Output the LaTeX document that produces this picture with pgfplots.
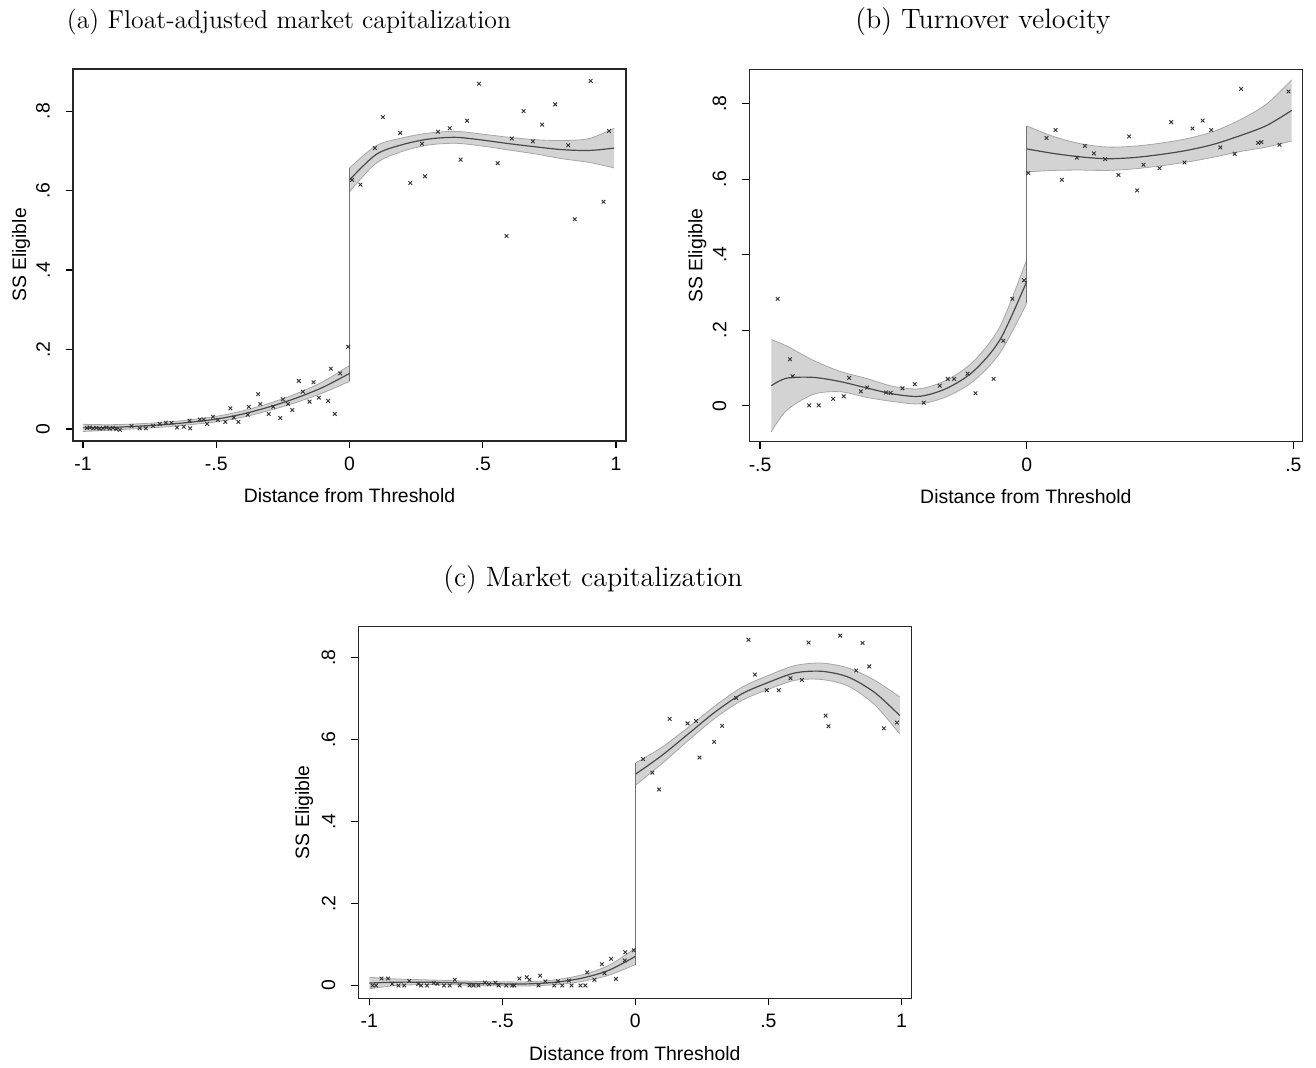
\documentclass[border=0pt]{standalone}
\usepackage{fontspec}
\setsansfont{Liberation Sans}
\usepackage{pgfplots}
\pgfplotsset{compat=1.18}
\usepackage{pgfplotstable}
\usepgfplotslibrary{fillbetween}

\definecolor{bandfill}{HTML}{D3D3D3}
\definecolor{bandedge}{HTML}{A6A6A6}
\definecolor{fitline}{HTML}{4A4A4A}
\definecolor{dotcol}{HTML}{333333}

% fitted polynomial and 95% band: x fit lo hi
\pgfplotstableread{
x fit lo hi
-1.0 0.003 -0.006 0.012
-0.9 0.004 -0.003 0.011
-0.8 0.007 0.001 0.013
-0.7 0.011 0.005 0.017
-0.6 0.017 0.011 0.023
-0.5 0.025 0.018 0.032
-0.4 0.038 0.030 0.046
-0.3 0.056 0.047 0.065
-0.2 0.078 0.067 0.089
-0.1 0.105 0.091 0.119
0.0 0.140 0.120 0.160
}\aLeft
\pgfplotstableread{
x fit lo hi
0.000 0.627 0.597 0.657
0.100 0.691 0.669 0.713
0.200 0.716 0.699 0.733
0.300 0.730 0.715 0.745
0.400 0.734 0.719 0.749
0.500 0.727 0.712 0.742
0.600 0.718 0.702 0.734
0.700 0.710 0.692 0.728
0.800 0.703 0.680 0.726
0.900 0.701 0.671 0.731
0.993 0.707 0.657 0.757
}\aRight
\pgfplotstableread{
x y
-0.985 0.003
-0.975 0.004
-0.962 0.002
-0.950 0.003
-0.938 0.001
-0.925 0.002
-0.912 0.004
-0.900 0.001
-0.888 0.003
-0.875 0.000
-0.862 -0.002
-0.818 0.008
-0.787 0.002
-0.764 0.002
-0.737 0.008
-0.712 0.013
-0.689 0.016
-0.668 0.016
-0.647 0.004
-0.622 0.006
-0.600 0.021
-0.598 0.002
-0.562 0.024
-0.547 0.024
-0.534 0.013
-0.512 0.031
-0.494 0.023
-0.466 0.018
-0.447 0.052
-0.434 0.029
-0.417 0.018
-0.382 0.036
-0.378 0.056
-0.343 0.088
-0.335 0.063
-0.303 0.038
-0.286 0.056
-0.260 0.028
-0.250 0.075
-0.231 0.063
-0.215 0.048
-0.190 0.121
-0.175 0.094
-0.150 0.069
-0.135 0.118
-0.115 0.079
-0.080 0.071
-0.070 0.152
-0.055 0.038
-0.035 0.140
-0.005 0.207
0.010 0.627
0.041 0.615
0.095 0.707
0.125 0.785
0.190 0.745
0.228 0.619
0.272 0.718
0.283 0.636
0.332 0.748
0.376 0.757
0.417 0.678
0.441 0.776
0.486 0.869
0.556 0.669
0.589 0.486
0.609 0.731
0.653 0.800
0.688 0.724
0.723 0.766
0.772 0.817
0.821 0.714
0.845 0.528
0.905 0.876
0.953 0.572
0.974 0.750
}\aPts

\pgfplotstableread{
x fit lo hi
-0.479 0.053 -0.069 0.175
-0.45 0.073 -0.012 0.158
-0.40 0.075 0.030 0.120
-0.35 0.064 0.037 0.091
-0.30 0.047 0.022 0.072
-0.25 0.031 0.011 0.051
-0.20 0.025 0.005 0.045
-0.15 0.046 0.024 0.068
-0.10 0.091 0.065 0.117
-0.05 0.175 0.140 0.210
0.00 0.329 0.271 0.387
}\bLeft
\pgfplotstableread{
x fit lo hi
0.000 0.680 0.619 0.741
0.050 0.668 0.623 0.713
0.100 0.659 0.624 0.694
0.150 0.654 0.623 0.685
0.200 0.657 0.627 0.687
0.250 0.665 0.635 0.695
0.300 0.676 0.645 0.707
0.350 0.692 0.658 0.726
0.400 0.715 0.673 0.757
0.450 0.742 0.685 0.799
0.497 0.782 0.701 0.863
}\bRight
\pgfplotstableread{
x y
-0.467 0.283
-0.444 0.123
-0.439 0.078
-0.408 0.001
-0.390 0.001
-0.363 0.018
-0.343 0.025
-0.333 0.074
-0.311 0.038
-0.299 0.048
-0.264 0.035
-0.255 0.034
-0.233 0.046
-0.210 0.057
-0.193 0.008
-0.163 0.053
-0.148 0.071
-0.136 0.071
-0.111 0.085
-0.096 0.033
-0.062 0.071
-0.044 0.172
-0.027 0.283
-0.005 0.332
0.003 0.616
0.037 0.709
0.054 0.730
0.066 0.598
0.094 0.657
0.109 0.688
0.126 0.668
0.147 0.653
0.172 0.611
0.192 0.713
0.207 0.570
0.219 0.638
0.249 0.629
0.271 0.751
0.296 0.644
0.311 0.734
0.330 0.755
0.346 0.730
0.363 0.684
0.390 0.667
0.402 0.839
0.434 0.696
0.440 0.698
0.474 0.691
0.491 0.832
}\bPts

\pgfplotstableread{
x fit lo hi
-1.0 0.006 -0.008 0.020
-0.9 0.008 0.000 0.016
-0.8 0.008 0.002 0.014
-0.7 0.007 0.002 0.012
-0.6 0.005 0.000 0.010
-0.5 0.004 -0.001 0.009
-0.4 0.004 -0.001 0.009
-0.3 0.008 0.002 0.014
-0.2 0.018 0.010 0.026
-0.1 0.037 0.025 0.049
0.0 0.071 0.051 0.091
}\cLeft
\pgfplotstableread{
x fit lo hi
0.000 0.515 0.488 0.542
0.100 0.561 0.541 0.581
0.200 0.614 0.598 0.630
0.300 0.667 0.652 0.682
0.400 0.711 0.695 0.727
0.500 0.739 0.722 0.756
0.600 0.762 0.744 0.780
0.700 0.766 0.746 0.786
0.800 0.752 0.730 0.774
0.900 0.714 0.684 0.744
0.994 0.658 0.613 0.703
}\cRight
\pgfplotstableread{
x y
-0.988 0.000
-0.975 0.000
-0.954 0.017
-0.930 0.017
-0.914 0.004
-0.890 0.000
-0.869 0.000
-0.850 0.011
-0.816 0.004
-0.806 0.000
-0.783 0.000
-0.758 0.006
-0.744 0.004
-0.719 0.000
-0.698 0.000
-0.679 0.014
-0.660 0.000
-0.623 0.000
-0.608 0.000
-0.590 0.000
-0.566 0.007
-0.550 0.003
-0.526 0.007
-0.514 0.000
-0.485 0.000
-0.463 0.000
-0.455 0.000
-0.436 0.017
-0.408 0.020
-0.398 0.014
-0.364 0.000
-0.358 0.024
-0.338 0.010
-0.305 0.000
-0.291 0.010
-0.275 0.000
-0.250 0.012
-0.240 0.000
-0.206 0.000
-0.188 0.000
-0.181 0.032
-0.154 0.014
-0.126 0.052
-0.116 0.030
-0.091 0.065
-0.073 0.016
-0.040 0.061
-0.038 0.081
-0.006 0.086
0.029 0.552
0.064 0.519
0.089 0.478
0.129 0.650
0.196 0.639
0.228 0.645
0.241 0.556
0.296 0.594
0.326 0.633
0.379 0.701
0.425 0.843
0.449 0.758
0.494 0.720
0.539 0.720
0.583 0.749
0.626 0.745
0.651 0.836
0.715 0.658
0.726 0.632
0.770 0.853
0.830 0.768
0.854 0.835
0.879 0.778
0.934 0.627
0.983 0.641
}\cPts

\pgfplotsset{
  rdpanel/.style={
    scale only axis, width=276.5pt, height=186pt,
    anchor=south west,
    axis line style={black!85, line width=0.6pt},
    tick align=outside, xtick pos=bottom, ytick pos=left,
    major tick length=3.5pt, tick style={black, line width=0.6pt},
    ytick={0,0.2,0.4,0.6,0.8}, yticklabels={0,.2,.4,.6,.8},
    ticklabel style={font=\sffamily\fontsize{9.7}{11}\selectfont},
    yticklabel style={rotate=90, anchor=south},
    yticklabel shift=4.5pt, xticklabel shift=1pt,
    label style={font=\sffamily\fontsize{9.7}{11}\selectfont},
    xlabel={Distance from Threshold}, ylabel={SS Eligible},
    x label style={at={(axis description cs:0.5,-0.148)}, anchor=center},
    y label style={at={(axis description cs:-0.094,0.5)}, anchor=center},
  },
  bandline/.style={draw=bandedge, line width=0.4pt, smooth},
  fitcurve/.style={fitline, line width=0.6pt, smooth},
  dots/.style={only marks, mark=x, mark size=1.3pt, mark options={dotcol, line width=0.45pt}},
  jump/.style={black!55, line width=0.5pt},
}

\begin{document}
\begin{tikzpicture}
\path (0,0) rectangle (658pt,533pt);

\node[font=\fontsize{12.9}{16}\selectfont] at (144.5pt,522pt) {(a) Float-adjusted market capitalization};
\node[font=\fontsize{14}{17}\selectfont] at (491.5pt,522pt) {(b) Turnover velocity};
\node[font=\fontsize{14}{17}\selectfont] at (296.5pt,243pt) {(c) Market capitalization};

% (a)
\begin{axis}[rdpanel, at={(36.5pt,312.5pt)},
    xmin=-1.0375, xmax=1.0375, ymin=-0.03, ymax=0.906,
    xtick={-1,-0.5,0,0.5,1}, xticklabels={-1,-.5,0,.5,1}]
\addplot[bandline, name path=aLu] table[x=x,y=hi]{\aLeft};
\addplot[bandline, name path=aLl] table[x=x,y=lo]{\aLeft};
\addplot[bandfill] fill between[of=aLu and aLl];
\addplot[bandline, name path=aRu] table[x=x,y=hi]{\aRight};
\addplot[bandline, name path=aRl] table[x=x,y=lo]{\aRight};
\addplot[bandfill] fill between[of=aRu and aRl];
\addplot[jump] coordinates {(0,0.120) (0,0.657)};
\addplot[fitcurve] table[x=x,y=fit]{\aLeft};
\addplot[fitcurve] table[x=x,y=fit]{\aRight};
\addplot[dots] table[x=x,y=y]{\aPts};
\end{axis}

% (b)
\begin{axis}[rdpanel, at={(374.7pt,312.2pt)},
    xmin=-0.52, xmax=0.517, ymin=-0.095, ymax=0.89,
    xtick={-0.5,0,0.5}, xticklabels={-.5,0,.5}]
\addplot[bandline, name path=bLu] table[x=x,y=hi]{\bLeft};
\addplot[bandline, name path=bLl] table[x=x,y=lo]{\bLeft};
\addplot[bandfill] fill between[of=bLu and bLl];
\addplot[bandline, name path=bRu] table[x=x,y=hi]{\bRight};
\addplot[bandline, name path=bRl] table[x=x,y=lo]{\bRight};
\addplot[bandfill] fill between[of=bRu and bRl];
\addplot[jump] coordinates {(0,0.271) (0,0.741)};
\addplot[fitcurve] table[x=x,y=fit]{\bLeft};
\addplot[fitcurve] table[x=x,y=fit]{\bRight};
\addplot[dots] table[x=x,y=y]{\bPts};
\end{axis}

% (c)
\begin{axis}[rdpanel, at={(179.2pt,33.9pt)},
    xmin=-1.041, xmax=1.0375, ymin=-0.031, ymax=0.876,
    xtick={-1,-0.5,0,0.5,1}, xticklabels={-1,-.5,0,.5,1},
    y label style={at={(axis description cs:-0.098,0.5)}}]
\addplot[bandline, name path=cLu] table[x=x,y=hi]{\cLeft};
\addplot[bandline, name path=cLl] table[x=x,y=lo]{\cLeft};
\addplot[bandfill] fill between[of=cLu and cLl];
\addplot[bandline, name path=cRu] table[x=x,y=hi]{\cRight};
\addplot[bandline, name path=cRl] table[x=x,y=lo]{\cRight};
\addplot[bandfill] fill between[of=cRu and cRl];
\addplot[jump] coordinates {(0,0.051) (0,0.542)};
\addplot[fitcurve] table[x=x,y=fit]{\cLeft};
\addplot[fitcurve] table[x=x,y=fit]{\cRight};
\addplot[dots] table[x=x,y=y]{\cPts};
\end{axis}
\end{tikzpicture}
\end{document}
